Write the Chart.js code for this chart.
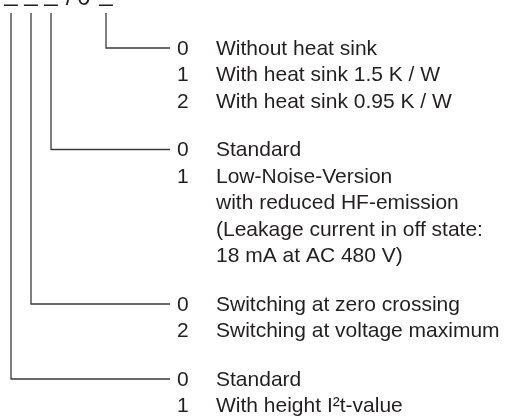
<!DOCTYPE html>
<html>
<head>
<meta charset="utf-8">
<script src="https://cdn.jsdelivr.net/npm/chart.js@4.4.0/dist/chart.umd.min.js"></script>
<style>
  html, body { margin: 0; padding: 0; background: #fff; }
  canvas { display: block; }
</style>
</head>
<body>
<canvas id="codeChart" width="506" height="416"></canvas>
<script>
// 型番の構成
const codeTemplate = ['_', '_', '_', '/', '0', '_'];

const heatSinkCodes = ['0', '1', '2'];
const heatSinkLabels = ['Without heat sink', 'With heat sink 1.5 K / W', 'With heat sink 0.95 K / W'];

const versionCodes = ['0', '1'];
const versionLabels = ['Standard', ['Low-Noise-Version', 'with reduced HF-emission', '(Leakage current in off state:', '18 mA at AC 480 V)']];

const switchingCodes = ['0', '2'];
const switchingLabels = ['Switching at zero crossing', 'Switching at voltage maximum'];

const i2tCodes = ['0', '1'];
const i2tLabels = ['Standard', 'With height I\u00B2t-value'];

// レイアウト
const groups = [
  { codes: heatSinkCodes, labels: heatSinkLabels, branchX: 106 },
  { codes: versionCodes, labels: versionLabels, branchX: 51 },
  { codes: switchingCodes, labels: switchingLabels, branchX: 31 },
  { codes: i2tCodes, labels: i2tLabels, branchX: 11 },
];
const templateX = [11, 31, 51, 69, 84, 106];
const firstRowY = 48;
const rowPitch = 26.5;
const groupGap = 48.5;
const lineTop = 13;
const lineEnd = 170;
const codeX = 177;
const labelX = 216;
const ink = '#231f20';
const font = '21px "Liberation Sans", Arial, sans-serif';

// 行の位置を計算
let rows = [];
let y = firstRowY;
groups.forEach((g, gi) => {
  g.rowY = y;
  g.codes.forEach((c, i) => {
    let lines = Array.isArray(g.labels[i]) ? g.labels[i] : [g.labels[i]];
    lines.forEach((t, li) => {
      rows.push({ code: li === 0 ? c : '', text: t, y: y });
      y += rowPitch;
    });
  });
  y += groupGap - rowPitch;
});

let datasets = groups.map(g => ({
  type: 'line',
  data: [{ x: g.branchX, y: lineTop }, { x: g.branchX, y: g.rowY }, { x: lineEnd, y: g.rowY }],
  borderColor: '#3a3a3a',
  borderWidth: 1.3,
  pointRadius: 0,
  fill: false,
  tension: 0,
}));

const textPlugin = {
  id: 'textPlugin',
  afterDatasetsDraw(chart) {
    const ctx = chart.ctx;
    const xs = chart.scales.x;
    const ys = chart.scales.y;
    ctx.save();
    ctx.fillStyle = ink;
    ctx.font = font;
    ctx.textBaseline = 'middle';
    ctx.textAlign = 'left';
    rows.forEach(r => {
      let py = ys.getPixelForValue(r.y) + 1;
      if (r.code) ctx.fillText(r.code, xs.getPixelForValue(codeX), py);
      ctx.fillText(r.text, xs.getPixelForValue(labelX), py);
    });
    // 上部のコード表記 (一部が切れている)
    ctx.font = '24px "Liberation Sans", Arial, sans-serif';
    ctx.textAlign = 'center';
    ctx.textBaseline = 'alphabetic';
    codeTemplate.forEach((ch, i) => {
      let by = ch === '_' ? 1 : 5;
      ctx.fillText(ch, xs.getPixelForValue(templateX[i]), ys.getPixelForValue(by));
    });
    ctx.restore();
  }
};

let codeCtx = document.getElementById('codeChart');
let codeChart = new Chart(codeCtx, {
  type: 'scatter',
  data: { datasets: datasets },
  options: {
    responsive: false,
    animation: false,
    layout: { padding: 0 },
    plugins: { legend: { display: false }, tooltip: { enabled: false } },
    scales: {
      x: { type: 'linear', min: 0, max: 506, display: false },
      y: { type: 'linear', min: 0, max: 416, reverse: true, display: false },
    },
  },
  plugins: [textPlugin],
});
</script>
</body>
</html>
